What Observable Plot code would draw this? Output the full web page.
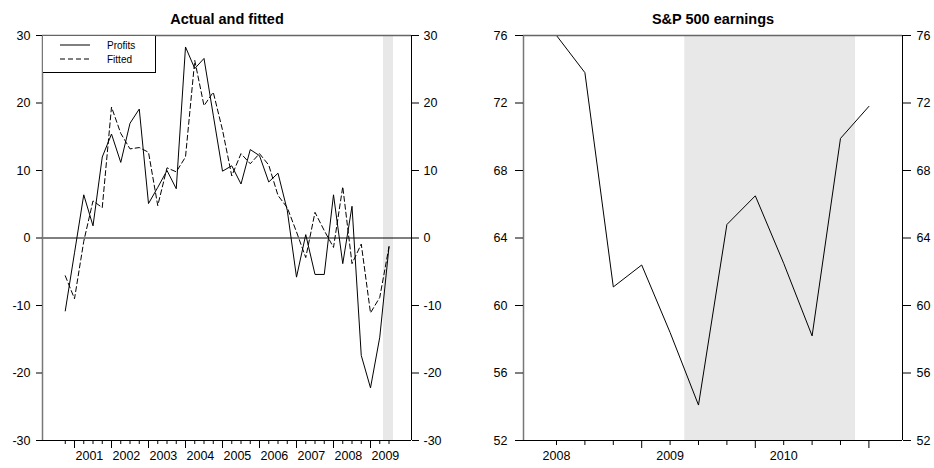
<!DOCTYPE html>
<html>
<head>
<meta charset="utf-8">
<script src="https://cdn.jsdelivr.net/npm/d3@7"></script>
<script src="https://cdn.jsdelivr.net/npm/@observablehq/plot@0.6"></script>
<style>
  html, body { margin: 0; padding: 0; background: #fff; }
  #wrap { position: relative; width: 934px; height: 468px; font-family: "Liberation Sans", Arial, sans-serif; }
  .panel { position: absolute; top: 0; width: 467px; height: 468px; }
  #legend { position: absolute; left: 43px; top: 36px; width: 112px; height: 36px; border-right: 1px solid #000; border-bottom: 1px solid #000; background: #fff; font-size: 10px; }
  #legend .row { position: absolute; left: 17px; height: 12px; display: flex; align-items: center; }
  #legend svg { width: 30px; height: 4px; margin-right: 17px; }
</style>
</head>
<body>
<div id="wrap">
  <div class="panel" id="left" style="left:0"></div>
  <div class="panel" id="right" style="left:467px"></div>
  <div id="legend">
    <div class="row" style="top:3px"><svg><line x1="0" y1="2" x2="30" y2="2" stroke="#000" stroke-width="1"/></svg><span>Profits</span></div>
    <div class="row" style="top:17px"><svg><line x1="0" y1="2" x2="30" y2="2" stroke="#000" stroke-width="1" stroke-dasharray="5,3"/></svg><span>Fitted</span></div>
  </div>
</div>
<script>
// ---------- Left panel data: Actual and fitted (quarterly) ----------
const leftQuarters = [
  "2000Q4",
  "2001Q1","2001Q2","2001Q3","2001Q4",
  "2002Q1","2002Q2","2002Q3","2002Q4",
  "2003Q1","2003Q2","2003Q3","2003Q4",
  "2004Q1","2004Q2","2004Q3","2004Q4",
  "2005Q1","2005Q2","2005Q3","2005Q4",
  "2006Q1","2006Q2","2006Q3","2006Q4",
  "2007Q1","2007Q2","2007Q3","2007Q4",
  "2008Q1","2008Q2","2008Q3","2008Q4",
  "2009Q1","2009Q2","2009Q3"
];
const profits = [
  -10.8,
  -2.2, 6.4, 1.8, 12.0,
  15.4, 11.2, 17.0, 19.1,
  5.1, 7.5, 10.0, 7.3,
  28.3, 25.1, 26.6, 18.2,
  9.9, 10.7, 8.0, 13.1,
  12.2, 8.3, 9.6, 4.1,
  -5.8, 0.5, -5.4, -5.4,
  6.4, -3.8, 4.7, -17.4,
  -22.2, -14.7, -1.3
];
const fitted = [
  -5.6,
  -9.0, -0.5, 5.5, 4.5,
  19.4, 15.5, 13.2, 13.4,
  12.7, 4.8, 10.4, 9.8,
  12.0, 26.3, 19.6, 21.6,
  16.0, 9.2, 12.5, 11.0,
  12.5, 10.8, 6.3, 4.5,
  0.9, -2.9, 3.8, 1.1,
  -1.4, 7.6, -3.8, -0.9,
  -11.1, -8.8, -1.3
];
const leftYTicks = [-30, -20, -10, 0, 10, 20, 30];
const leftYearLabels = [2001, 2002, 2003, 2004, 2005, 2006, 2007, 2008, 2009];
const leftShade = [{start: 2009.351, end: 2009.622}];

// ---------- Right panel data: S&P 500 earnings (quarterly) ----------
const rightQuarters = [
  "2008Q1","2008Q2","2008Q3","2008Q4",
  "2009Q1","2009Q2","2009Q3","2009Q4",
  "2010Q1","2010Q2","2010Q3","2010Q4"
];
const earnings = [76.0, 73.8, 61.1, 62.4, 58.4, 54.1, 64.8, 66.5, 62.5, 58.2, 69.9, 71.8];
const rightYTicks = [52, 56, 60, 64, 68, 72, 76];
const rightYearLabels = [2008, 2009, 2010];
const rightShade = [{start: 2009.129, end: 2010.632}];

// ---------- helpers ----------
const q2t = s => +s.slice(0, 4) + (+s.slice(5) - 1) / 4;
const FONT = "'Liberation Sans', Arial, sans-serif";

const leftData = leftQuarters.map((q, i) => ({t: q2t(q), profits: profits[i], fitted: fitted[i]}));
const rightData = rightQuarters.map((q, i) => ({t: q2t(q), earnings: earnings[i]}));

const leftX = [2000.135, 2010.108];
const leftY = [-30, 30];
const leftQuarterTicks = leftQuarters.map(q2t).filter(t => t % 1 !== 0);
const leftMajorTicks = leftQuarters.map(q2t).filter(t => t % 1 === 0);

const rightX = [2007.7095, 2011.0458];
const rightY = [52, 76];
const rightAllTicks = rightQuarters.map(q2t);
const rightMajorTicks = rightAllTicks.filter(t => Math.abs((t % 1) - 0.75) < 1e-9);
const rightMinorTicks = rightAllTicks.filter(t => Math.abs((t % 1) - 0.75) >= 1e-9);

const common = {
  width: 467, height: 468,
  marginTop: 35, marginBottom: 28,
  style: {fontFamily: FONT, fontSize: "12.5px", background: "white", color: "black", overflow: "visible"}
};

const leftPlot = Plot.plot({
  ...common,
  marginLeft: 42, marginRight: 56,
  x: {domain: leftX},
  y: {domain: leftY},
  marks: [
    Plot.rect(leftShade, {x1: "start", x2: "end", fill: "#e8e8e8"}),
    Plot.ruleY([0], {stroke: "#000", strokeWidth: 1}),
    Plot.line(leftData, {x: "t", y: "fitted", stroke: "#000", strokeWidth: 1, strokeDasharray: "5,3"}),
    Plot.line(leftData, {x: "t", y: "profits", stroke: "#000", strokeWidth: 1}),
    Plot.ruleY([leftY[1]], {stroke: "#666", strokeWidth: 1.5}),
    Plot.ruleY([leftY[0]], {stroke: "#000", strokeWidth: 1}),
    Plot.ruleX([leftX[0]], {stroke: "#777", strokeWidth: 1.5}),
    Plot.ruleX([leftX[1]], {stroke: "#000", strokeWidth: 1}),
    Plot.axisY(leftYTicks, {anchor: "left", tickSize: 6, tickPadding: 6, tickFormat: d => String(d), label: null}),
    Plot.axisY(leftYTicks, {anchor: "right", tickSize: 7, tickPadding: 5, tickFormat: d => String(d), label: null}),
    Plot.axisX(leftQuarterTicks, {anchor: "bottom", tickSize: 4, tickFormat: () => "", label: null}),
    Plot.axisX(leftMajorTicks, {anchor: "bottom", tickSize: 8, tickFormat: () => "", label: null}),
    Plot.axisX(leftYearLabels, {anchor: "bottom", tickSize: 0, tickPadding: 11, textAnchor: "start", dx: 1, tickFormat: d => String(d), label: null}),
    Plot.text(["Actual and fitted"], {frameAnchor: "top", dy: -22, fontWeight: "bold", fontSize: 14.5})
  ]
});
document.getElementById("left").appendChild(leftPlot);

const rightPlot = Plot.plot({
  ...common,
  marginLeft: 56, marginRight: 32,
  x: {domain: rightX},
  y: {domain: rightY},
  marks: [
    Plot.rect(rightShade, {x1: "start", x2: "end", fill: "#e8e8e8"}),
    Plot.line(rightData, {x: "t", y: "earnings", stroke: "#000", strokeWidth: 1}),
    Plot.ruleY([rightY[1]], {stroke: "#666", strokeWidth: 1.5}),
    Plot.ruleY([rightY[0]], {stroke: "#000", strokeWidth: 1}),
    Plot.ruleX([rightX[0]], {stroke: "#777", strokeWidth: 1.5}),
    Plot.ruleX([rightX[1]], {stroke: "#000", strokeWidth: 1}),
    Plot.axisY(rightYTicks, {anchor: "left", tickSize: 8, tickPadding: 8, tickFormat: d => String(d), label: null}),
    Plot.axisY(rightYTicks, {anchor: "right", tickSize: 8, tickPadding: 6, tickFormat: d => String(d), label: null}),
    Plot.axisX(rightMinorTicks, {anchor: "bottom", tickSize: 5, tickFormat: () => "", label: null}),
    Plot.axisX(rightMajorTicks, {anchor: "bottom", tickSize: 8, tickFormat: () => "", label: null}),
    Plot.axisX(rightYearLabels, {anchor: "bottom", tickSize: 0, tickPadding: 11, tickFormat: d => String(d), label: null}),
    Plot.text(["S&P 500 earnings"], {frameAnchor: "top", dy: -22, fontWeight: "bold", fontSize: 14.5})
  ]
});
document.getElementById("right").appendChild(rightPlot);
</script>
</body>
</html>
